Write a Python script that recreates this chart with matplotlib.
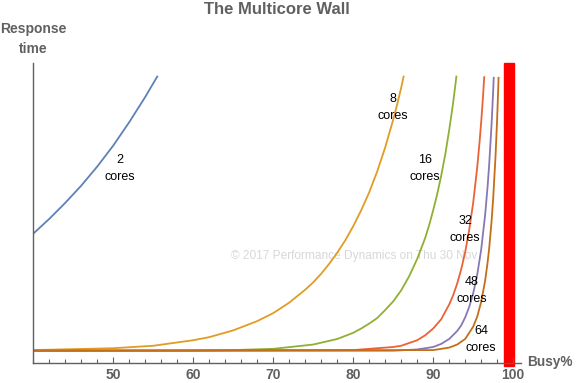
import matplotlib.pyplot as plt
from matplotlib.ticker import MultipleLocator

plt.rcParams['font.family'] = ['Liberation Sans', 'DejaVu Sans']

# busy% vs response time
x2 = [40, 42, 44, 46, 48, 50, 52, 54, 55.5]
y2 = [1.190, 1.214, 1.240, 1.268, 1.299, 1.333, 1.371, 1.412, 1.445]

x8 = [40, 50, 55, 60, 62, 65, 68, 70, 72, 74, 75, 76, 77, 78, 79, 80,
      81, 82, 83, 84, 85, 85.5, 86, 86.3]
y8 = [1.001, 1.004, 1.008, 1.017, 1.022, 1.033, 1.048, 1.061, 1.078, 1.099,
      1.111, 1.125, 1.141, 1.159, 1.179, 1.202, 1.228, 1.257, 1.291, 1.330,
      1.375, 1.400, 1.427, 1.445]

x16 = [40, 60, 65, 70, 75, 78, 80, 81, 82, 83, 84, 85, 86, 87, 88, 89,
       89.5, 90, 90.5, 91, 91.5, 92, 92.5, 92.9]
y16 = [1.000, 1.000, 1.001, 1.003, 1.010, 1.019, 1.029, 1.036, 1.044, 1.053,
       1.066, 1.080, 1.098, 1.121, 1.149, 1.183, 1.204, 1.228, 1.254, 1.284,
       1.318, 1.358, 1.403, 1.445]

x32 = [40, 80, 85, 86, 88, 89, 90, 91, 92, 92.5, 93, 93.5, 94, 94.5, 95,
       95.5, 95.8, 96, 96.2, 96.38]
y32 = [1.000, 1.001, 1.006, 1.008, 1.017, 1.025, 1.036, 1.051, 1.075, 1.090,
       1.109, 1.132, 1.160, 1.196, 1.240, 1.297, 1.339, 1.371, 1.407, 1.444]

x48 = [40, 85, 88, 90, 91, 92, 93, 93.5, 94, 94.5, 95, 95.5, 96, 96.5,
       96.8, 97, 97.3, 97.4, 97.5, 97.57]
y48 = [1.000, 1.000, 1.002, 1.006, 1.011, 1.019, 1.032, 1.041, 1.054, 1.071,
       1.093, 1.123, 1.164, 1.221, 1.266, 1.302, 1.368, 1.394, 1.422, 1.443]

x64 = [40, 90, 92, 93, 94, 95, 95.5, 96, 96.5, 96.8, 97, 97.3, 97.5, 97.8,
       98, 98.1, 98.15, 98.17]
y64 = [1.000, 1.001, 1.005, 1.010, 1.019, 1.039, 1.055, 1.079, 1.114, 1.143,
       1.166, 1.210, 1.247, 1.317, 1.378, 1.414, 1.434, 1.443]

series = [(x2, y2), (x8, y8), (x16, y16), (x32, y32), (x48, y48), (x64, y64)]
colors = ['#5E81B5', '#E19C24', '#8FB032', '#EB6235', '#8778B3', '#C56E1A']

label_text = ['2\ncores', '8\ncores', '16\ncores', '32\ncores', '48\ncores', '64\ncores']
label_x = [50.8, 85.0, 89.0, 94.0, 94.8, 96.0]
label_y = [1.296, 1.395, 1.296, 1.196, 1.098, 1.018]

gray = '#606060'

fig = plt.figure(figsize=(5.76, 3.83), dpi=100)
ax = fig.add_axes([0.0578, 0.053, 0.847, 0.7825])

ax.axvspan(98.9, 100.05, ymin=-0.01, ymax=1, color='#FF0000', zorder=1, clip_on=False)

for (xs, ys), c in zip(series, colors):
    ax.plot(xs, ys, color=c, lw=1.3, zorder=2)

for t, lx, ly in zip(label_text, label_x, label_y):
    ax.text(lx, ly, t, ha='center', va='center', fontsize=9,
            linespacing=1.55, color='black', zorder=3)

ax.text(80.1, 1.154, '\u00a9 2017 Performance Dynamics on Thu 30 Nov',
        ha='center', va='center', fontsize=8.6, color='#d8d8d8', zorder=0)

ax.set_xlim(40, 101)
ax.set_ylim(0.9805, 1.467)

for s in ['top', 'right']:
    ax.spines[s].set_visible(False)
for s in ['left', 'bottom']:
    ax.spines[s].set_color(gray)
    ax.spines[s].set_linewidth(1.0)

ax.set_yticks([])
ax.set_xticks([50, 60, 70, 80, 90, 100])
ax.xaxis.set_minor_locator(MultipleLocator(2))
ax.tick_params(axis='x', which='both', direction='in', color=gray,
               labelcolor=gray, labelsize=10, pad=4)
ax.tick_params(axis='x', which='major', length=4.5, width=0.8)
ax.tick_params(axis='x', which='minor', length=3, width=0.8)
for lab in ax.get_xticklabels():
    lab.set_fontweight('bold')

fig.text(277 / 576, 1 - 10 / 383, 'The Multicore Wall', ha='center', va='center',
         fontsize=12, fontweight='bold', color=gray)
fig.text(33 / 576, 1 - 39 / 383, 'Response\ntime', ha='center', va='center',
         fontsize=10, fontweight='bold', color=gray, linespacing=1.5)
fig.text(527 / 576, 1 - 362 / 383, 'Busy%', ha='left', va='center',
         fontsize=9.8, fontweight='bold', color=gray)

fig.savefig('out.png', dpi=100)
